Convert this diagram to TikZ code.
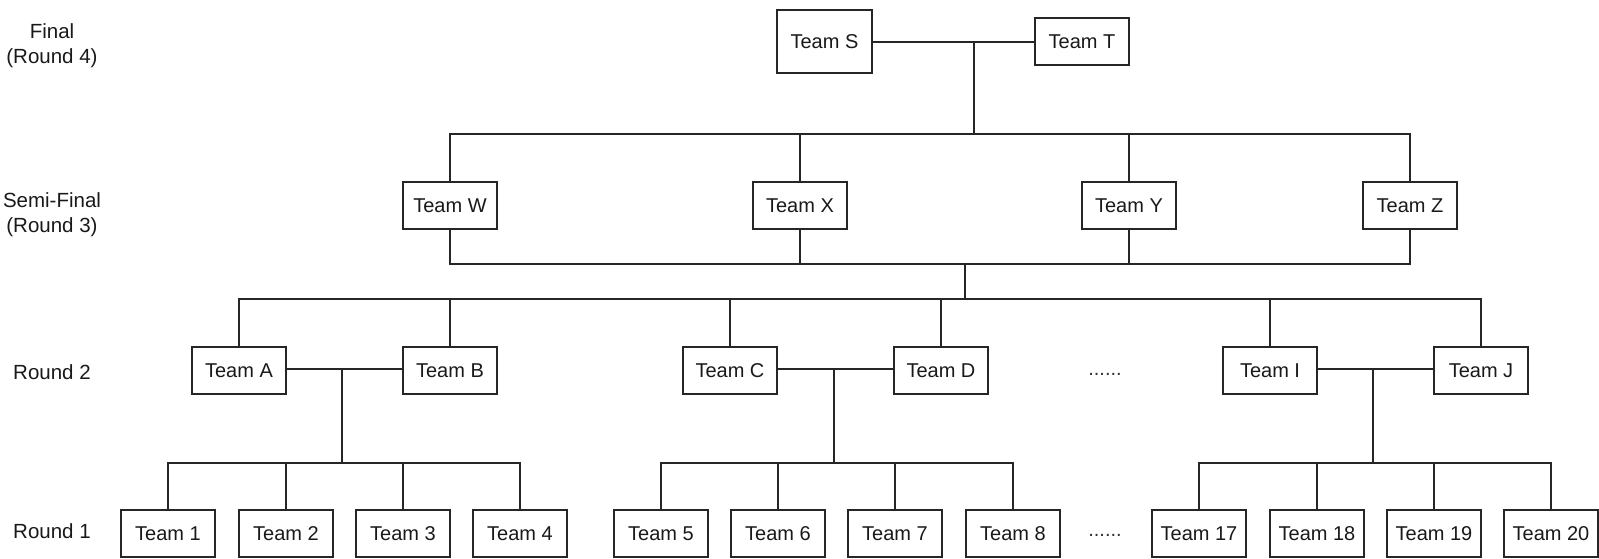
\documentclass[tikz,border=0pt]{standalone}
\usepackage{fontspec}
\setmainfont{Liberation Sans}
\begin{document}
\begin{tikzpicture}[x=1pt,y=-1pt,
  teambox/.style={draw=black!85,line width=2pt,minimum width=94pt,minimum height=47pt,inner sep=0pt,font=\fontsize{20}{24}\selectfont,text=black!90},
  roundlbl/.style={align=center,font=\fontsize{20.5}{25}\selectfont,text=black!90},
  dotslbl/.style={anchor=base,inner sep=0pt,font=\fontsize{20}{24}\selectfont,text=black!80},
  link/.style={draw=black!85,line width=2pt}]
\useasboundingbox (0,0) rectangle (1599,558);
% round labels
\node[roundlbl] (lf) at (52,45.5) {Final\\(Round 4)};
\node[roundlbl] (ls) at (52,215) {Semi-Final\\(Round 3)};
\node[roundlbl] (l2) at (52,372) {Round 2};
\node[roundlbl] (l1) at (52,531) {Round 1};
% final
\node[teambox,minimum width=95pt,minimum height=63pt] (S) at (824.5,41.5) {Team S};
\node[teambox] (T) at (1082,41.5) {Team T};
% semi-final
\node[teambox] (W) at (450,205.5) {Team W};
\node[teambox] (X) at (800,205.5) {Team X};
\node[teambox] (Y) at (1129,205.5) {Team Y};
\node[teambox] (Z) at (1410,205.5) {Team Z};
% round 2
\node[teambox] (A) at (239,370.5) {Team A};
\node[teambox] (B) at (450,370.5) {Team B};
\node[teambox] (C) at (730,370.5) {Team C};
\node[teambox] (D) at (941,370.5) {Team D};
\node[teambox] (I) at (1270,370.5) {Team I};
\node[teambox] (J) at (1481,370.5) {Team J};
\node[dotslbl] (dots2) at (1105,375) {......};
% round 1
\foreach \n/\x in {1/168,2/286,3/403,4/520,5/661,6/778,7/895,8/1013,17/1199,18/1317,19/1434,20/1551}{
  \node[teambox] (r\n) at (\x,533.5) {Team \n};
}
\node[dotslbl] (dots1) at (1105,536) {......};
% junction coordinates
\coordinate (jST) at (974,42);
\coordinate (b1) at (974,134);
\coordinate (b2) at (965,264);
\coordinate (b3) at (965,299);
\coordinate (jAB) at (342,369);
\coordinate (jCD) at (834,369);
\coordinate (jIJ) at (1373,369);
\coordinate (lv) at (0,463);
% final connectors
\draw[link] (S.east |- jST) -- (T.west |- jST);
\draw[link] (jST) -- (b1);
\draw[link] (W.north) -- (W.north |- b1) -- (Z.north |- b1) -- (Z.north);
\draw[link] (X.north) -- (X.north |- b1);
\draw[link] (Y.north) -- (Y.north |- b1);
% semi-final lower
\draw[link] (W.south) -- (W.south |- b2) -- (Z.south |- b2) -- (Z.south);
\draw[link] (X.south) -- (X.south |- b2);
\draw[link] (Y.south) -- (Y.south |- b2);
\draw[link] (b2) -- (b3);
\draw[link] (A.north) -- (A.north |- b3) -- (J.north |- b3) -- (J.north);
\foreach \t in {B,C,D,I}{\draw[link] (\t.north) -- (\t.north |- b3);}
% round 2 pairs
\draw[link] (A.east |- jAB) -- (B.west |- jAB);
\draw[link] (C.east |- jCD) -- (D.west |- jCD);
\draw[link] (I.east |- jIJ) -- (J.west |- jIJ);
\draw[link] (jAB) -- (jAB |- lv);
\draw[link] (jCD) -- (jCD |- lv);
\draw[link] (jIJ) -- (jIJ |- lv);
% round 1 groups
\draw[link] (r1.north) -- (r1.north |- lv) -- (r4.north |- lv) -- (r4.north);
\draw[link] (r2.north) -- (r2.north |- lv);
\draw[link] (r3.north) -- (r3.north |- lv);
\draw[link] (r5.north) -- (r5.north |- lv) -- (r8.north |- lv) -- (r8.north);
\draw[link] (r6.north) -- (r6.north |- lv);
\draw[link] (r7.north) -- (r7.north |- lv);
\draw[link] (r17.north) -- (r17.north |- lv) -- (r20.north |- lv) -- (r20.north);
\draw[link] (r18.north) -- (r18.north |- lv);
\draw[link] (r19.north) -- (r19.north |- lv);
\end{tikzpicture}
\end{document}
